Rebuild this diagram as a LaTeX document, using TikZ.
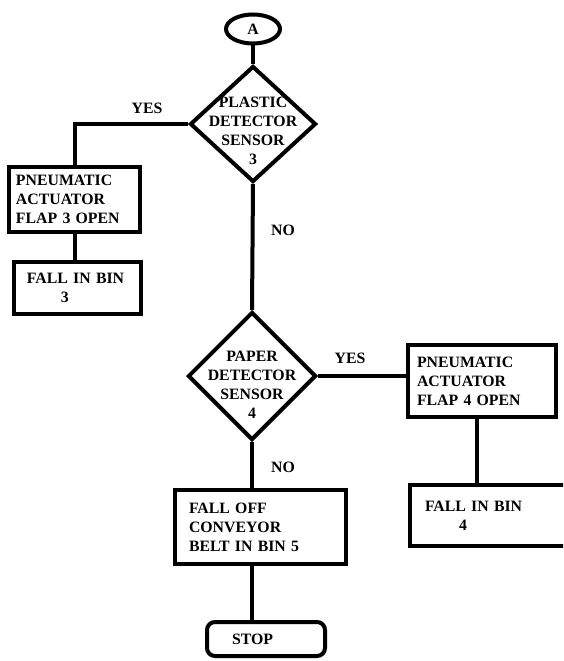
\documentclass[tikz,border=0pt]{standalone}
\usepackage{fontspec}
\setmainfont{Liberation Serif}
\usetikzlibrary{shapes.geometric}

\tikzset{
  flow/.style={line width=4pt},
  procbox/.style={draw, line width=4pt, rectangle, inner ysep=0pt, align=left,
    font=\fontsize{15.8}{19}\selectfont\bfseries},
  decision/.style={draw, line width=4pt, diamond, inner sep=0pt},
  dtext/.style={align=center, inner sep=0pt, font=\fontsize{15.8}{19}\selectfont\bfseries},
  answer/.style={inner sep=0pt, font=\fontsize{15.8}{19}\selectfont\bfseries}
}

\begin{document}
\begin{tikzpicture}[x=1pt,y=-1pt]
  \clip (0,0) rectangle (563,661);

% Draw the connector A and the plastic sensor
  \node[draw, line width=4pt, ellipse, minimum width=54pt, minimum height=29pt, inner sep=0pt,
    font=\fontsize{15.8}{19}\selectfont\bfseries] (A) at (253,29) {A};
  \node[decision, minimum width=126pt, minimum height=116pt] (plastic) at (253,124) {};
  \node[dtext] (plastictxt) at ([yshift=-7pt]plastic.center) {PLASTIC\\DETECTOR\\SENSOR\\3};

  % Draw the left branch (bin 3)
  \node[procbox, minimum width=131pt, minimum height=65pt, text width=117pt, inner xsep=7pt]
    (flapthree) at (74.5,199.5) {PNEUMATIC\\ACTUATOR\\FLAP 3 OPEN};
  \node[procbox, minimum width=127pt, minimum height=52pt, text width=101pt, inner xsep=13pt]
    (binthree) at (77.5,288) {FALL IN BIN\\\hspace*{34pt}3};



  % Draw the paper sensor
  \node[decision, minimum width=128pt, minimum height=128pt] (paper) at (252,376) {};
  \node[dtext] (papertxt) at ([yshift=-9pt]paper.center) {PAPER\\DETECTOR\\SENSOR\\4};

  % Draw the right branch (bin 4)
  \node[procbox, minimum width=148pt, minimum height=72pt, text width=130pt, inner xsep=9pt]
    (flapfour) at (482,381) {PNEUMATIC\\ACTUATOR\\FLAP 4 OPEN};
  \node[procbox, minimum width=158pt, minimum height=61pt, text width=128pt, inner xsep=15pt]
    (binfour) at (489,515.5) {FALL IN BIN\\\hspace*{34pt}4};

  % Draw the bin 5 box and stop
  \node[procbox, minimum width=171pt, minimum height=74pt, text width=143pt, inner xsep=14pt]
    (binfive) at (260.5,527) {FALL OFF\\CONVEYOR\\BELT IN BIN 5};
  \node[procbox, rounded corners=8pt, minimum width=118pt, minimum height=34pt, text width=68pt, inner xsep=25pt]
    (stop) at (266,639) {STOP};


  % Draw the connectors
  \draw[flow] (A.south) -- (plastic.north);
  \draw[flow] (plastic.west) -| (flapthree.north);
  \draw[flow] (flapthree.south) -- (flapthree.south |- binthree.north);
  \draw[flow] (plastic.south) -- (paper.north);
  \draw[flow] (paper.east) -- (paper.east -| flapfour.west);
  \draw[flow] ([xshift=-5pt]flapfour.south) -- ([xshift=-5pt]flapfour.south |- binfour.north);
  \draw[flow] (paper.south) -- (paper.south |- binfive.north);
  \draw[flow] (paper.south |- binfive.south) -- (paper.south |- stop.north);

  % Yes and no labels
  \node[answer] (yesone) at (147,108) {YES};
  \node[answer] (noone) at (283,230) {NO};
  \node[answer] (yestwo) at (350,358) {YES};
  \node[answer] (notwo) at (283,467) {NO};

\end{tikzpicture}
\end{document}
